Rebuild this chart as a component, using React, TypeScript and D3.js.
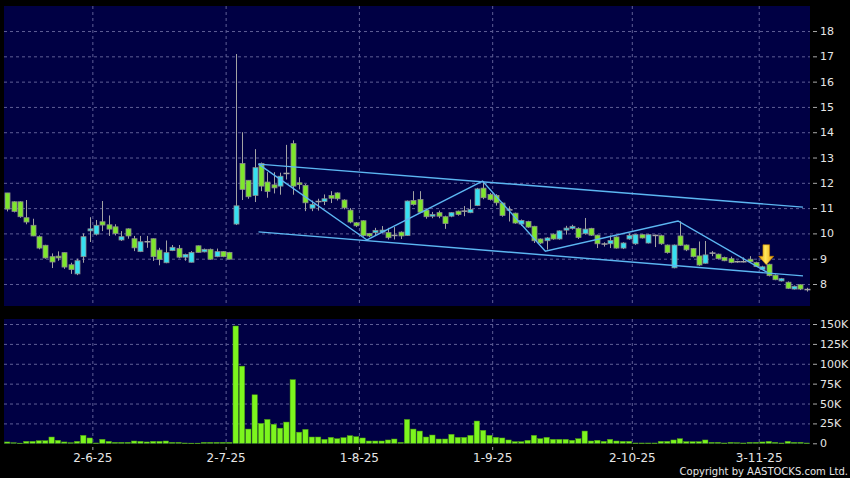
import React from 'react';
import * as d3 from 'd3';

// ---- data ----
const opens = [
  11.6, 11.25, 11.25, 10.62, 10.32, 9.87, 9.53, 9.08, 9.1, 9.24,
  8.76, 8.4, 9.08, 10.1, 9.97, 10.46, 10.34, 10.26, 9.74, 10.18,
  9.79, 9.28, 9.67, 9.79, 9.34, 8.84, 9.32, 9.41, 9.06, 8.86,
  9.51, 9.27, 9.37, 9.08, 9.28, 9.25, 10.37, 12.76, 12.1, 11.5,
  12.76, 12.03, 11.92, 11.87, 12.37, 13.55, 12.0, 11.9, 11.0, 11.26,
  11.26, 11.5, 11.6, 11.32, 10.92, 10.42, 10.5, 10.0, 10.03, 10.05,
  10.03, 9.92, 10.05, 9.92, 11.3, 11.34, 10.92, 10.68, 10.82, 10.66,
  10.68, 10.88, 10.88, 10.82, 11.1, 11.79, 11.54, 11.5, 11.2, 10.93,
  10.8, 10.37, 10.47, 10.28, 9.78, 9.71, 9.97, 9.78, 10.13, 10.2,
  10.2, 9.99, 10.2, 9.93, 9.58, 9.59, 9.86, 9.42, 9.78, 9.59,
  9.95, 9.62, 9.92, 9.91, 9.54, 8.64, 9.9, 9.54, 9.4, 9.11,
  8.82, 9.22, 9.18, 9.05, 9.0, 8.88, 8.88, 8.98, 8.85, 8.58,
  8.78, 8.35, 8.12, 8.07, 7.8, 7.97, 7.78,
];
const highs = [
  11.6, 11.27, 11.27, 11.32, 10.58, 9.92, 9.55, 9.21, 9.29, 9.25,
  8.84, 9.0, 10.0, 10.64, 10.53, 11.28, 10.71, 10.36, 10.09, 10.2,
  9.9, 9.9, 9.9, 9.8, 9.43, 9.72, 9.54, 9.54, 9.2, 9.3,
  9.52, 9.4, 9.4, 9.4, 9.3, 9.27, 17.09, 14.0, 12.1, 13.33,
  12.8, 12.42, 12.42, 12.4, 13.5, 13.68, 12.22, 11.95, 11.3, 11.37,
  11.54, 11.67, 11.62, 11.35, 11.0, 10.45, 10.52, 10.02, 10.22, 10.29,
  10.22, 10.25, 10.08, 11.3, 11.67, 11.67, 10.95, 10.85, 10.9, 10.7,
  10.84, 10.9, 11.08, 11.34, 11.8, 12.07, 11.6, 11.55, 11.22, 11.07,
  10.82, 10.55, 10.5, 10.3, 9.8, 9.85, 10.0, 10.12, 10.3, 10.34,
  10.24, 10.61, 10.22, 9.95, 9.65, 9.92, 9.88, 9.65, 10.0, 9.98,
  9.97, 9.97, 9.95, 9.95, 9.56, 9.56, 10.48, 9.56, 9.42, 9.68,
  9.7, 9.3, 9.2, 9.08, 9.08, 8.92, 9.05, 9.1, 8.88, 8.72,
  8.8, 8.38, 8.24, 8.1, 7.94, 7.99, 7.85,
];
const lows = [
  10.87, 10.83, 10.62, 10.36, 9.89, 9.37, 9.0, 8.63, 8.92, 8.6,
  8.4, 8.35, 8.84, 9.66, 9.92, 10.09, 9.9, 9.92, 9.7, 9.79,
  9.3, 9.26, 9.43, 8.91, 8.74, 8.82, 9.3, 9.02, 8.92, 8.85,
  9.24, 9.25, 8.96, 9.06, 9.06, 8.97, 10.33, 11.32, 11.37, 11.24,
  11.67, 11.41, 11.58, 11.53, 12.13, 11.53, 11.74, 10.88, 10.88, 10.9,
  11.12, 11.2, 11.3, 10.95, 10.4, 10.25, 9.87, 9.85, 9.92, 10.0,
  9.76, 9.76, 9.78, 9.9, 11.1, 10.8, 10.58, 10.6, 10.6, 10.18,
  10.64, 10.7, 10.68, 10.8, 11.08, 11.35, 11.3, 11.1, 10.66, 10.47,
  10.38, 10.3, 10.22, 9.62, 9.58, 9.36, 9.75, 9.75, 9.95, 10.15,
  9.78, 9.95, 9.9, 9.42, 9.48, 9.42, 9.4, 9.38, 9.75, 9.55,
  9.8, 9.6, 9.46, 9.55, 9.2, 8.62, 9.5, 9.3, 9.05, 8.72,
  8.8, 9.1, 8.98, 8.9, 8.82, 8.84, 8.85, 8.86, 8.67, 8.55,
  8.3, 8.15, 8.1, 7.8, 7.78, 7.76, 7.7,
];
const closes = [
  10.96, 10.87, 10.66, 10.45, 9.9, 9.42, 9.03, 8.87, 9.03, 8.67,
  8.57, 8.92, 9.87, 10.18, 10.32, 10.33, 10.17, 10.0, 9.87, 9.9,
  9.43, 9.67, 9.67, 9.08, 8.97, 9.24, 9.45, 9.06, 9.17, 9.25,
  9.25, 9.37, 8.98, 9.28, 9.08, 8.98, 11.09, 11.74, 11.45, 12.6,
  11.87, 11.66, 11.8, 12.26, 12.37, 11.87, 11.93, 11.21, 11.14, 11.26,
  11.37, 11.39, 11.37, 11.01, 10.45, 10.3, 9.92, 9.9, 10.12, 10.13,
  9.83, 9.92, 9.9, 11.28, 11.14, 10.84, 10.66, 10.75, 10.68, 10.39,
  10.82, 10.75, 10.88, 10.95, 11.76, 11.41, 11.34, 11.21, 10.71, 10.93,
  10.41, 10.51, 10.25, 9.71, 9.62, 9.82, 9.78, 10.1, 10.21, 10.28,
  9.84, 10.17, 9.93, 9.59, 9.58, 9.72, 9.42, 9.62, 9.92, 9.95,
  9.82, 9.95, 9.92, 9.59, 9.24, 9.54, 9.53, 9.35, 9.08, 8.75,
  9.15, 9.22, 9.0, 8.92, 8.85, 8.88, 8.88, 8.88, 8.69, 8.68,
  8.33, 8.17, 8.21, 7.83, 7.91, 7.8, 7.78,
];
// volume in thousands of shares
const volumes = [
  1.7, 0.8, 0.2, 2.5, 2.5, 3.3, 3.3, 7.9, 3.8, 1.7,
  0.8, 2.5, 10, 6.7, 0.4, 5, 2.5, 1.2, 1.2, 1.2,
  2.9, 2.5, 1.7, 2.5, 2.5, 2.9, 1.2, 1.2, 0.4, 0.2,
  0.2, 1.2, 1.2, 1.2, 1.2, 1.2, 147.5, 97, 17.9, 61,
  25, 30, 24, 19, 26.7, 80, 14, 17.5, 7.9, 7.9,
  5, 7.5, 5.8, 7.1, 9.6, 8.3, 6.7, 2.9, 2.9, 2.9,
  4.2, 5.4, 1.2, 30, 17.9, 15.4, 7.9, 10.4, 5.4, 5.4,
  11.3, 7.5, 7.5, 10, 28, 16.3, 10, 7.5, 6.7, 4.2,
  2.1, 2.1, 3.8, 10, 5.8, 7.5, 5, 5, 5, 3.8,
  5.8, 15.4, 2.9, 3.8, 2.5, 5, 2.9, 2.5, 2.5, 0.4,
  0.4, 0.4, 0.4, 2.5, 2.5, 4.2, 5.8, 2.1, 2.1, 2.1,
  4.2, 1.2, 1.2, 0.4, 1.2, 0.8, 0.4, 1.2, 1.2, 1.7,
  2.5, 1.2, 0.4, 2.5, 1.2, 1.2, 0.4,
];
const monthStartIndex = [14, 35, 56, 77, 99, 119];
const monthLabels = ['2-6-25', '2-7-25', '1-8-25', '1-9-25', '2-10-25', '3-11-25'];
const priceTicks = [8, 9, 10, 11, 12, 13, 14, 15, 16, 17, 18];
const volumeTicks = [0, 25, 50, 75, 100, 125, 150];
// trend lines: [candle index, price]
const channelUpper: [number, number][] = [[39.6, 12.74], [125.4, 11.04]];
const channelLower: [number, number][] = [[39.6, 10.06], [125.4, 8.32]];
const zigzag: [number, number][] = [
  [39.6, 12.74], [56.7, 9.74], [74.9, 12.07], [84.8, 9.3], [105.7, 10.49], [119.7, 8.47],
];
const signalIndex = 120;

const W = 850;
const H = 478;
const plotL = 4;
const plotR = 810;
const priceTop = 6;
const priceBottom = 306;
const volTop = 319;
const volBottom = 444;

const GREEN = '#7ee62c';
const CYAN = '#36e0f2';
const GRID = '#5e5e96';
const FONT = 'DejaVu Sans, sans-serif';

export default function App() {
  const n = opens.length;
  const x = d3.scaleLinear().domain([-0.5, n - 0.5]).range([plotL, plotR]);
  const step = x(1) - x(0);
  const bodyW = 5;
  const y = d3.scaleLinear().domain([7.13, 18.99]).range([priceBottom, priceTop]);
  const yv = d3.scaleLinear().domain([0, 156.3]).range([volBottom - 0.7, volTop]);
  const line = d3
    .line<[number, number]>()
    .x((d) => x(d[0]))
    .y((d) => y(d[1]));

  const gridXs = monthStartIndex.map((i) => x(i - 0.5));

  const ax = x(signalIndex) - 2.5;
  const tipY = y(highs[signalIndex]) + 1;

  return (
    <svg
      width={W}
      height={H}
      style={{ position: 'absolute', left: 0, top: 0, display: 'block', background: '#000' }}
    >
      <defs>
        <linearGradient id="arrowGrad" x1="0" x2="1" y1="0" y2="0">
          <stop offset="0%" stopColor="#e89a00" />
          <stop offset="45%" stopColor="#ffe65a" />
          <stop offset="100%" stopColor="#e89a00" />
        </linearGradient>
      </defs>
      <rect x={0} y={0} width={W} height={H} fill="#000" />
      {/* panels */}
      <rect x={plotL} y={priceTop} width={plotR - plotL} height={priceBottom - priceTop} fill="#000044" />
      <rect x={plotL} y={volTop} width={plotR - plotL} height={volBottom - volTop} fill="#000044" />

      {/* horizontal grid */}
      {priceTicks.map((t) => (
        <line key={'pg' + t} x1={plotL} x2={plotR} y1={y(t) + 0.5} y2={y(t) + 0.5}
          stroke={GRID} strokeDasharray="3,3" strokeWidth={1} />
      ))}
      {volumeTicks.filter((t) => t > 0).map((t) => (
        <line key={'vg' + t} x1={plotL} x2={plotR} y1={yv(t) + 0.5} y2={yv(t) + 0.5}
          stroke={GRID} strokeDasharray="3,3" strokeWidth={1} />
      ))}
      {/* vertical grid */}
      {gridXs.map((gx, k) => (
        <g key={'vx' + k}>
          <line x1={gx} x2={gx} y1={priceTop} y2={priceBottom} stroke={GRID} strokeDasharray="3,3" />
          <line x1={gx} x2={gx} y1={volTop} y2={volBottom} stroke={GRID} strokeDasharray="3,3" />
          <line x1={gx} x2={gx} y1={volBottom + 3} y2={volBottom + 6} stroke="#aaa" />
          <text x={gx} y={462} fill="#e6e6e6" fontSize={12} fontFamily={FONT} textAnchor="middle">
            {monthLabels[k]}
          </text>
        </g>
      ))}

      {/* y axes */}
      {priceTicks.map((t) => (
        <g key={'pt' + t}>
          <line x1={813} x2={817} y1={y(t) + 0.5} y2={y(t) + 0.5} stroke="#aaa" />
          <text x={820} y={y(t) + 4} fill="#e6e6e6" fontSize={11} fontFamily={FONT}>{t}</text>
        </g>
      ))}
      {volumeTicks.map((t) => (
        <g key={'vt' + t}>
          <line x1={813} x2={817} y1={yv(t) + 0.5} y2={yv(t) + 0.5} stroke="#aaa" />
          <text x={820} y={yv(t) + 4} fill="#e6e6e6" fontSize={11} fontFamily={FONT}>
            {t === 0 ? '0' : `${t}K`}
          </text>
        </g>
      ))}

      {/* candles */}
      {opens.map((o, i) => {
        const c = closes[i];
        const cx = Math.round(x(i)) + 0.5;
        const top = y(Math.max(o, c));
        const bot = y(Math.min(o, c));
        const doji = Math.abs(o - c) < 0.005;
        const fill = c > o ? CYAN : GREEN;
        return (
          <g key={'c' + i}>
            <line x1={cx} x2={cx} y1={y(highs[i])} y2={y(lows[i])} stroke="#a3a3a3" strokeWidth={1} />
            {doji ? (
              <line x1={cx - bodyW / 2 - 0.5} x2={cx + bodyW / 2 + 0.5} y1={top} y2={top} stroke="#a3a3a3" strokeWidth={1.5} />
            ) : (
              <rect x={cx - bodyW / 2} y={top} width={bodyW} height={Math.max(bot - top, 1.5)}
                fill={fill} stroke="#8c8c8c" strokeWidth={0.8} />
            )}
          </g>
        );
      })}

      {/* trend lines */}
      {[channelUpper, channelLower, zigzag].map((pts, k) => (
        <path key={'tl' + k} d={line(pts) || ''} fill="none" stroke="#5cb6f2" strokeWidth={1.4} />
      ))}

      {/* signal arrow */}
      <path
        d={`M${ax - 3.3},${tipY - 20} L${ax + 3.3},${tipY - 20} L${ax + 3.3},${tipY - 8.5} L${ax + 7.5},${tipY - 8.5} L${ax},${tipY} L${ax - 7.5},${tipY - 8.5} L${ax - 3.3},${tipY - 8.5} Z`}
        fill="url(#arrowGrad)" stroke="#c98400" strokeWidth={0.6}
      />

      {/* volume bars */}
      {volumes.map((v, i) => {
        const x0 = x(i - 0.5) + 0.5;
        return (
          <rect key={'v' + i} x={x0} y={yv(v)} width={step - 1} height={Math.max(yv(0) - yv(v), 0.6)}
            fill="#7cf51e" stroke="#4d9a12" strokeWidth={0.5} />
        );
      })}

      <text x={848} y={475} fill="#e6e6e6" fontSize={10} fontFamily={FONT} textAnchor="end">
        Copyright by AASTOCKS.com Ltd.
      </text>
    </svg>
  );
}
